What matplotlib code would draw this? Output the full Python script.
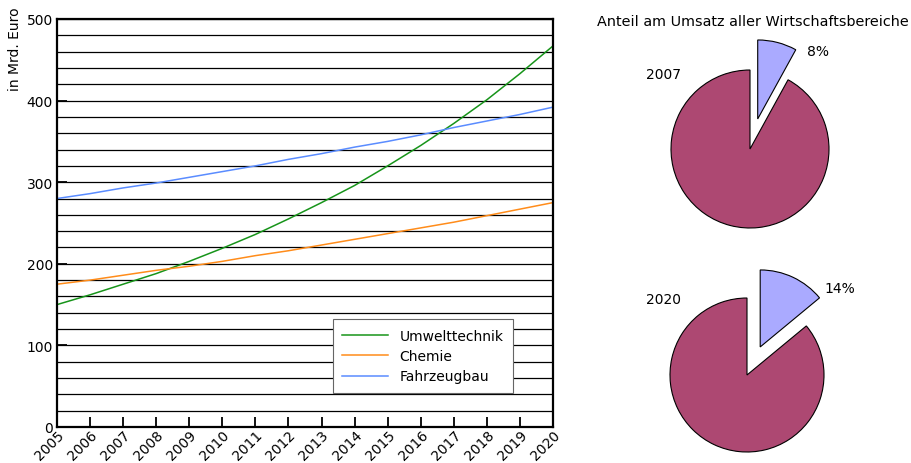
import matplotlib.pyplot as plt

# Umsatz in Mrd. Euro
years = list(range(2005, 2021))
umwelttechnik = [150, 162, 175, 188, 203, 219, 236, 255, 275, 296, 320, 345, 372, 401, 433, 467]
chemie = [175, 180, 186, 192, 197, 203, 210, 216, 223, 230, 237, 244, 251, 259, 267, 275]
fahrzeugbau = [280, 286, 293, 299, 306, 313, 320, 328, 335, 343, 350, 358, 367, 375, 383, 392]

# Anteil am Umsatz (Prozent)
pie_years = ["2007", "2020"]
anteil = [8, 14]

W, H = 912, 464
fs = 10
fig = plt.figure(figsize=(W / 100, H / 100), dpi=100)


def px(x0, y0, w, h):
    return [x0 / W, 1 - (y0 + h) / H, w / W, h / H]


ax = fig.add_axes(px(57, 20, 496, 408))
ax.plot(years, umwelttechnik, color="#17941a", lw=1.1, label="Umwelttechnik")
ax.plot(years, chemie, color="#ff8c1a", lw=1.1, label="Chemie")
ax.plot(years, fahrzeugbau, color="#5a8cff", lw=1.1, label="Fahrzeugbau")
ax.set_xlim(2005, 2020)
ax.set_ylim(0, 500)
ax.set_yticks(range(0, 501, 100))
ax.set_yticks(range(0, 501, 20), minor=True)
ax.set_xticks(years)
ax.set_xticklabels([str(y) for y in years], rotation=45, ha="right", va="top",
                   rotation_mode="anchor", fontsize=fs)
ax.tick_params(axis="y", which="major", direction="in", length=7, width=1.3,
               labelsize=fs, pad=3)
ax.tick_params(axis="y", which="minor", length=0)
ax.tick_params(axis="x", direction="in", length=7, width=1.3, pad=0)
ax.grid(axis="y", which="both", color="black", lw=0.9)
ax.set_axisbelow(True)
for s in ax.spines.values():
    s.set_linewidth(1.6)
leg = ax.legend(loc="lower left", bbox_to_anchor=(0.556, 0.083), borderaxespad=0,
                fontsize=fs, fancybox=False, framealpha=1, edgecolor="#666666",
                handlelength=3.3, borderpad=0.7, labelspacing=0.45)
leg.get_frame().set_linewidth(0.8)
fig.text(15 / W, 1 - 49 / H, "in Mrd. Euro", rotation=90, ha="center",
         va="center", fontsize=fs)

fig.text(753 / W, 1 - 22 / H, "Anteil am Umsatz aller Wirtschaftsbereiche",
         ha="center", va="center", fontsize=10.4)

# Kreisdiagramme: Mittelpunkt und Radius in Pixeln
pie_pos = [(750, 150, 79, (-1.10, 0.95), (0.86, 1.24)),
           (747, 376, 77, (-1.09, 0.99), (1.21, 1.13))]
for year, share, (cx, cy, r, ypos, ppos) in zip(pie_years, anteil, pie_pos):
    size = 3.2 * r
    pa = fig.add_axes(px(cx - size / 2, cy - size / 2, size, size))
    pa.pie([share, 100 - share], explode=[31 / r, 0], startangle=90,
           counterclock=False, colors=["#aaaaff", "#ad4872"],
           wedgeprops=dict(edgecolor="black", linewidth=0.8))
    pa.set_xlim(-1.6, 1.6)
    pa.set_ylim(-1.6, 1.6)
    pa.set_aspect("equal")
    pa.axis("off")
    pa.text(*ypos, year, ha="center", va="center", fontsize=fs)
    pa.text(*ppos, f"{share}%", ha="center", va="center", fontsize=fs)

fig.savefig("out.png", dpi=100)
